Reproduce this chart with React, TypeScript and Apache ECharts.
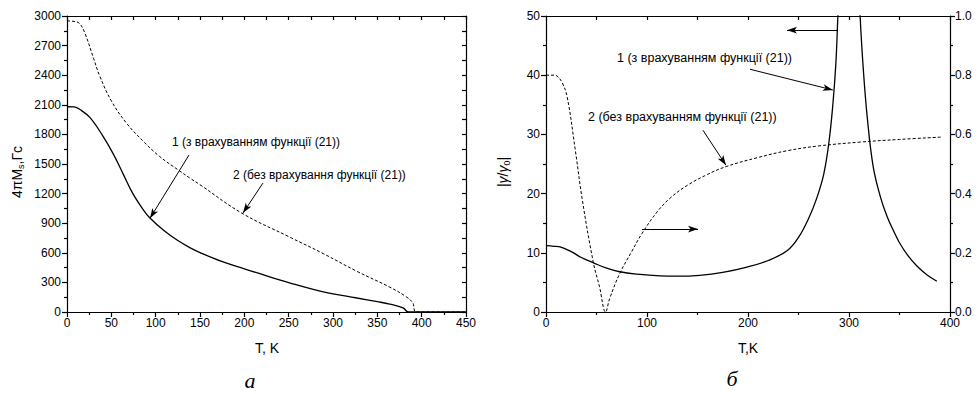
import React, { useEffect, useRef } from "react";
import * as echarts from "echarts";

// ---- Panel (а): 4πMs vs T ----
const leftSolidT = [0, 8, 15, 26, 40, 52, 63, 74, 85, 93, 110, 125, 139, 150, 176, 200, 214, 251, 289, 327, 350, 364, 379, 385, 450];
const leftSolidM = [2080, 2078, 2050, 1970, 1790, 1605, 1405, 1205, 1050, 958, 820, 724, 650, 602, 507, 438, 398, 296, 205, 142, 105, 80, 42, 0, 0];

const leftDashT = [0, 8, 14, 20, 30, 37, 50, 67, 85, 104, 127, 139, 150, 197, 251, 289, 327, 364, 383, 390, 394, 450];
const leftDashM = [2950, 2945, 2925, 2830, 2570, 2390, 2140, 1915, 1740, 1580, 1430, 1355, 1290, 1003, 760, 592, 412, 252, 152, 92, 0, 0];

// ---- Panel (б): |γ/γ0| (left axis) and second curve (right axis) ----
const rightSolidT = [0, 8, 14, 25, 35, 47, 60, 73, 90, 113, 130, 152, 175, 199, 220, 239, 250, 260, 268, 275, 280, 284, 287, 289, 293, 300, 307, 311, 314, 318, 324, 331, 338, 345, 350, 358, 367, 377, 387];
const rightSolidV = [11.2, 11.1, 11.0, 10.2, 9.2, 8.3, 7.4, 6.8, 6.4, 6.1, 6.05, 6.2, 6.7, 7.6, 8.7, 10.4, 12.6, 15.8, 19.2, 23.3, 28.5, 35, 42, 50, 65, 90, 65, 50, 41.4, 33, 24.5, 19.5, 16, 13.4, 11.7, 9.6, 7.8, 6.3, 5.2];

const rightDashT = [0, 8, 11, 16, 21, 29, 36, 47, 53, 59, 63, 73, 85, 95, 110, 123, 140, 160, 179, 210, 239, 270, 311, 350, 392];
const rightDashV = [0.8, 0.8, 0.797, 0.775, 0.726, 0.547, 0.378, 0.165, 0.085, 0.0, 0.045, 0.13, 0.205, 0.265, 0.338, 0.385, 0.428, 0.465, 0.492, 0.522, 0.545, 0.561, 0.574, 0.583, 0.591];

// tick settings
const leftXTicks = { min: 0, max: 450, interval: 50 };
const leftYTicks = { min: 0, max: 3000, interval: 300 };
const rightXTicks = { min: 0, max: 400, interval: 100 };
const rightYTicks = { min: 0, max: 50, interval: 10 };
const rightY2Ticks = { min: 0, max: 1, interval: 0.2 };

// annotation arrows in data coordinates: [fromX, fromY, toX, toY]
const leftArrows = [
  [137.6, 1591, 93.6, 950],
  [221, 1307, 198.5, 1003],
];
const rightArrows = [
  [289, 47.6, 238.6, 47.6],
  [202, 41, 284, 37.5],
  [155.4, 30.7, 178.2, 24.8],
  [95, 14.0, 150.5, 14.0],
];

const FONT = "Liberation Sans, Arial, sans-serif";
const zip = (xs: number[], ys: number[]) => xs.map((x, i) => [x, ys[i]]);

const lineStyle = { color: "#000", width: 1.2 };

function mainAxis(gridIndex: number, position: string, t: any, labelFmt?: (v: number) => string, margin = 5) {
  return {
    type: "value",
    gridIndex,
    position,
    min: t.min,
    max: t.max,
    interval: t.interval,
    axisLine: { show: true, onZero: false, lineStyle },
    axisTick: { show: true, inside: false, length: 5, lineStyle },
    minorTick: { show: true, splitNumber: 2, length: 3, lineStyle },
    axisLabel: {
      show: true,
      color: "#000",
      fontSize: 12,
      fontFamily: FONT,
      margin,
      formatter: labelFmt || ((v: number) => String(v)),
    },
    splitLine: { show: false },
    minorSplitLine: { show: false },
  };
}

function mirrorAxis(gridIndex: number, position: string, t: any) {
  return {
    type: "value",
    gridIndex,
    position,
    min: t.min,
    max: t.max,
    interval: t.interval,
    axisLine: { show: true, onZero: false, lineStyle },
    axisTick: { show: true, inside: true, length: 4, lineStyle },
    minorTick: { show: true, splitNumber: 2, length: 4, lineStyle },
    axisLabel: { show: false },
    splitLine: { show: false },
    minorSplitLine: { show: false },
  };
}

function arrowMarkLine(arrows: number[][]) {
  return {
    silent: true,
    symbol: ["none", "arrow"],
    symbolSize: [5, 10],
    label: { show: false },
    emphasis: { disabled: true },
    lineStyle: { color: "#000", width: 1, type: "solid" },
    data: arrows.map((a) => [{ coord: [a[0], a[1]] }, { coord: [a[2], a[3]] }]),
  };
}

export default function App() {
  const ref = useRef<HTMLDivElement>(null);
  useEffect(() => {
    if (!ref.current) return;
    const chart = echarts.init(ref.current, undefined, { renderer: "svg" });
    const textStyle = { fill: "#000", fontFamily: FONT };
    chart.setOption({
      animation: false,
      backgroundColor: "#fff",
      grid: [
        { left: 67, top: 16, width: 399, height: 296 },
        { left: 546, top: 16, width: 404, height: 296 },
      ],
      xAxis: [
        mainAxis(0, "bottom", leftXTicks),
        mirrorAxis(0, "top", leftXTicks),
        mainAxis(1, "bottom", rightXTicks),
        mirrorAxis(1, "top", rightXTicks),
      ],
      yAxis: [
        mainAxis(0, "left", leftYTicks, undefined, 6),
        mirrorAxis(0, "right", leftYTicks),
        mainAxis(1, "left", rightYTicks, undefined, 6),
        mainAxis(1, "right", rightY2Ticks, (v: number) => v.toFixed(1)),
      ],
      series: [
        {
          type: "line",
          xAxisIndex: 0,
          yAxisIndex: 0,
          data: zip(leftSolidT, leftSolidM),
          smooth: 0.4,
          showSymbol: false,
          lineStyle: { color: "#000", width: 1.3 },
          silent: true,
          markLine: arrowMarkLine(leftArrows),
        },
        {
          type: "line",
          xAxisIndex: 0,
          yAxisIndex: 0,
          data: zip(leftDashT, leftDashM),
          smooth: 0.4,
          showSymbol: false,
          lineStyle: { color: "#000", width: 1, type: [3, 2] },
          silent: true,
        },
        {
          type: "line",
          xAxisIndex: 2,
          yAxisIndex: 2,
          data: zip(rightSolidT, rightSolidV),
          smooth: 0.4,
          showSymbol: false,
          clip: true,
          lineStyle: { color: "#000", width: 1.3 },
          silent: true,
          markLine: arrowMarkLine(rightArrows),
        },
        {
          type: "line",
          xAxisIndex: 2,
          yAxisIndex: 3,
          data: zip(rightDashT, rightDashV),
          smooth: 0.4,
          showSymbol: false,
          lineStyle: { color: "#000", width: 1, type: [3, 2] },
          silent: true,
        },
      ],
      graphic: [
        { type: "text", x: 172, y: 142, style: { ...textStyle, text: "1 (з врахуванням функції (21))", fontSize: 12, verticalAlign: "middle" } },
        { type: "text", x: 233, y: 175, style: { ...textStyle, text: "2 (без врахування функції (21))", fontSize: 12, verticalAlign: "middle" } },
        { type: "text", x: 617, y: 58, style: { ...textStyle, text: "1 (з врахуванням функції (21))", fontSize: 12.5, verticalAlign: "middle" } },
        { type: "text", x: 588, y: 117, style: { ...textStyle, text: "2 (без врахуванням функції (21))", fontSize: 12.5, verticalAlign: "middle" } },
        { type: "text", x: 267, y: 348, style: { ...textStyle, text: "T, K", fontSize: 14, align: "center", verticalAlign: "middle" } },
        { type: "text", x: 748, y: 348, style: { ...textStyle, text: "T,K", fontSize: 14, align: "center", verticalAlign: "middle" } },
        {
          type: "text",
          x: 17,
          y: 172,
          rotation: Math.PI / 2,
          style: {
            ...textStyle,
            text: "4πM{s|s},Гс",
            fontSize: 14,
            align: "center",
            verticalAlign: "middle",
            rich: { s: { fontSize: 9, fontFamily: FONT, fill: "#000", padding: [7, 0, 0, 0] } },
          },
        },
        {
          type: "text",
          x: 503,
          y: 172,
          rotation: Math.PI / 2,
          style: {
            ...textStyle,
            text: "|{g|γ}/{g|γ}{s|0}|",
            fontSize: 14,
            align: "center",
            verticalAlign: "middle",
            rich: {
              g: { fontSize: 14, fontStyle: "italic", fontFamily: FONT, fill: "#000" },
              s: { fontSize: 9, fontFamily: FONT, fill: "#000", padding: [7, 0, 0, 0] },
            },
          },
        },
        { type: "text", x: 250, y: 380, style: { fill: "#000", text: "а", fontSize: 22, fontStyle: "italic", fontFamily: "Liberation Serif, Times New Roman, serif", align: "center", verticalAlign: "middle" } },
        { type: "text", x: 732, y: 378, style: { fill: "#000", text: "б", fontSize: 22, fontStyle: "italic", fontFamily: "Liberation Serif, Times New Roman, serif", align: "center", verticalAlign: "middle" } },
      ],
    });
    return () => chart.dispose();
  }, []);
  return (
    <div
      ref={ref}
      style={{ position: "absolute", left: 0, top: 0, width: 979, height: 394, background: "#fff" }}
    />
  );
}
